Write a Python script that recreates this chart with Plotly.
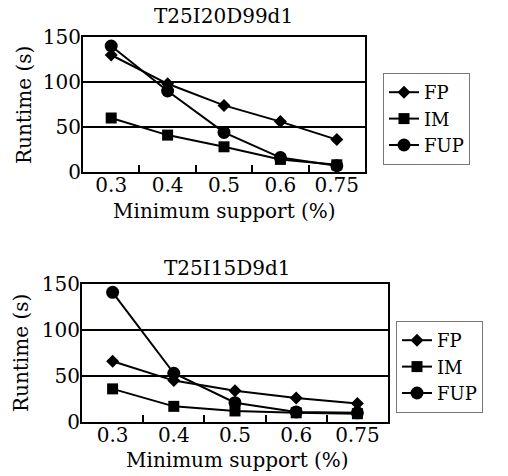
import plotly.graph_objects as go

categories = ["0.3", "0.4", "0.5", "0.6", "0.75"]
series_names = ["FP", "IM", "FUP"]
top_title = "T25I20D99d1"
bottom_title = "T25I15D9d1"
top_fp = [130, 98, 74, 56, 36]
top_im = [60, 41, 28, 14, 8]
top_fup = [140, 90, 44, 16, 7]
bot_fp = [66, 45, 34, 26, 20]
bot_im = [36, 17, 12, 10, 9]
bot_fup = [141, 53, 21, 11, 10]
y_ticks = [0, 50, 100, 150]
x_title = "Minimum support (%)"
y_title = "Runtime (s)"

FONT = "DejaVu Serif"
W, H = 508, 476
symbols = {"FP": ("diamond", 10), "IM": ("square", 11), "FUP": ("circle", 13)}

fig = go.Figure()

def add_series(vals, name, xa, ya, legend):
    sym, sz = symbols[name]
    fig.add_trace(go.Scatter(
        x=categories, y=vals, name=name, mode="lines+markers",
        line=dict(color="black", width=2),
        marker=dict(symbol=sym, size=sz, color="black"),
        xaxis=xa, yaxis=ya, legend=legend,
    ))

for vals, nm in zip([top_fp, top_im, top_fup], series_names):
    add_series(vals, nm, "x", "y", "legend")
for vals, nm in zip([bot_fp, bot_im, bot_fup], series_names):
    add_series(vals, nm, "x2", "y2", "legend2")

def px_x(p):
    return p / W

def px_y(p):
    return 1 - p / H

xcommon = dict(type="category", tickson="boundaries", ticks="inside", ticklen=7,
               tickwidth=2, tickcolor="black", showline=True, linewidth=2,
               linecolor="black", mirror=True, showgrid=False, range=[-0.5, 4.5],
               automargin=False, ticklabelstandoff=-6,
               tickfont=dict(family=FONT, size=20, color="black"))
ycommon = dict(range=[0, 150], tickvals=y_ticks, ticks="", showline=True,
               linewidth=2, linecolor="black", mirror=True, showgrid=True,
               gridcolor="black", gridwidth=2, zeroline=False, automargin=False,
               ticklabelstandoff=-4,
               tickfont=dict(family=FONT, size=20, color="black"))

leg_font = dict(family=FONT, size=18, color="black")
fig.update_layout(
    width=W, height=H, margin=dict(l=0, r=0, t=0, b=0, autoexpand=False),
    paper_bgcolor="white", plot_bgcolor="white",
    xaxis=dict(domain=[px_x(83), px_x(365)], anchor="y", **xcommon),
    yaxis=dict(domain=[px_y(172), px_y(37)], anchor="x", **ycommon),
    xaxis2=dict(domain=[px_x(82), px_x(388)], anchor="y2", **xcommon),
    yaxis2=dict(domain=[px_y(422), px_y(284)], anchor="x2", **ycommon),
    legend=dict(x=px_x(383), y=px_y(73), xanchor="left", yanchor="top",
                bordercolor="#777", borderwidth=1, bgcolor="white",
                font=leg_font, tracegroupgap=0),
    legend2=dict(x=px_x(396), y=px_y(321), xanchor="left", yanchor="top",
                 bordercolor="#777", borderwidth=1, bgcolor="white",
                 font=leg_font, tracegroupgap=0),
    showlegend=True,
)

ann_font = dict(family=FONT, size=20, color="black")
def ann(text, x, y, angle=0):
    return dict(text=text, x=px_x(x), y=px_y(y), xref="paper", yref="paper",
                xanchor="center", yanchor="middle", showarrow=False,
                font=ann_font, textangle=angle)

annotations = [
    ann(top_title, 223, 16),
    ann(bottom_title, 227, 268),
    ann(x_title, 224, 211),
    ann(x_title, 237, 460),
    ann(y_title, 24, 105, -90),
    ann(y_title, 21, 353, -90),
]
fig.update_layout(annotations=annotations)

fig.write_html("out.html")
